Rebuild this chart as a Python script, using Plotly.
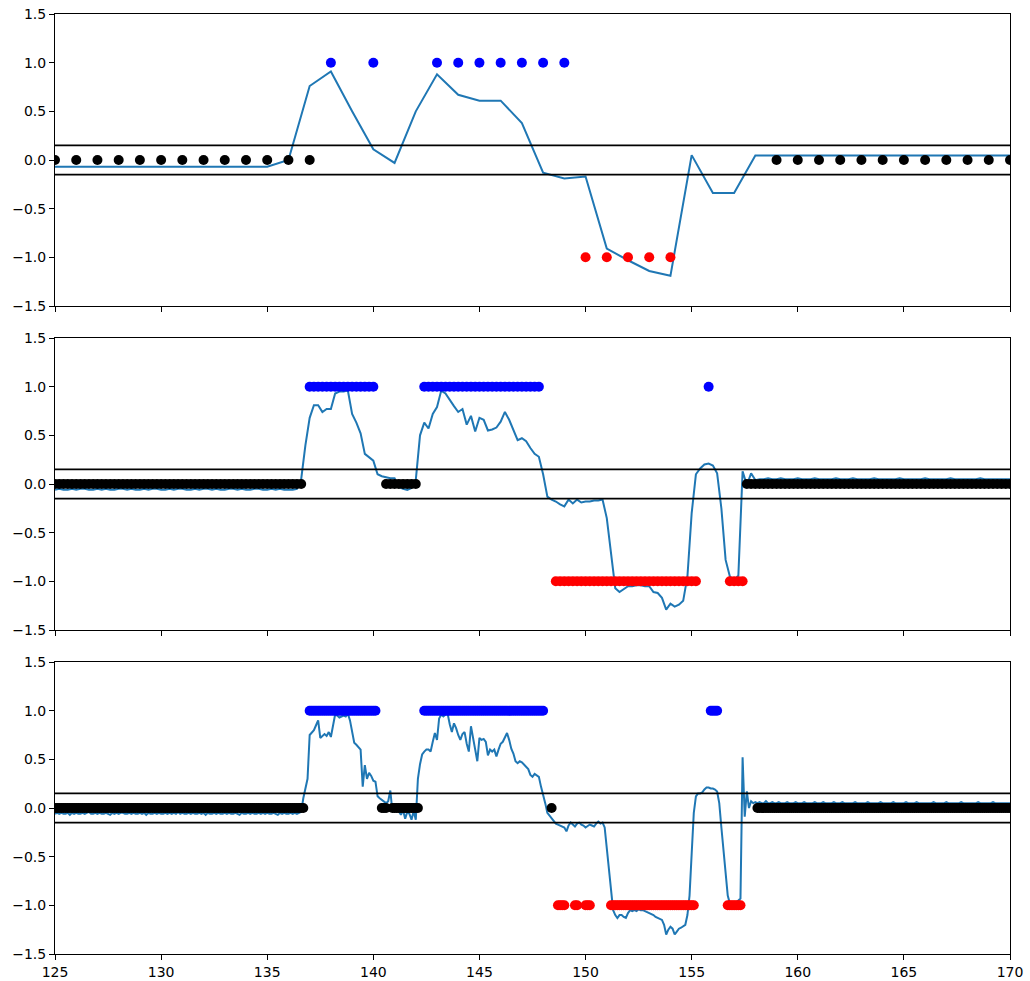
import numpy as np
import plotly.graph_objects as go
from plotly.subplots import make_subplots

# ---- sampling grids (start, step) for the three signals ----
X_START = 125.0
STEP_1, STEP_2, STEP_3 = 1.0, 0.2, 0.1

# ---- signal 1 : one sample per unit ----
signal_1 = [
    -0.07, -0.07, -0.07, -0.07, -0.07, -0.07, -0.07, -0.07, -0.07, -0.07, -0.07,
    0.00, 0.76, 0.91, 0.50, 0.11, -0.03, 0.50, 0.88, 0.67, 0.61, 0.61, 0.38,
    -0.13, -0.19, -0.17, -0.91, -1.03, -1.14, -1.19, 0.05, -0.34, -0.34, 0.045,
    0.045, 0.045, 0.045, 0.045, 0.045, 0.045, 0.045, 0.045, 0.045, 0.045, 0.045, 0.045,
]

# ---- signal 2 : five samples per unit ----
signal_2_head = [
    -0.06, -0.05, -0.06, -0.06, -0.05, -0.06, -0.05, -0.05, -0.06, -0.06,
    -0.05, -0.06, -0.05, -0.06, -0.06, -0.05, -0.05, -0.06, -0.05, -0.06,
    -0.06, -0.05, -0.06, -0.05, -0.05, -0.06, -0.06, -0.05, -0.06, -0.05,
    -0.05, -0.06, -0.06, -0.05, -0.06, -0.05, -0.05, -0.06, -0.05, -0.06,
    -0.06, -0.05, -0.05, -0.06, -0.05, -0.06, -0.06, -0.05, -0.05, -0.06,
    -0.06, -0.05, -0.06, -0.05, -0.06, -0.06, -0.06, -0.05,
]
signal_2_mid = [
    0.05, 0.40, 0.68, 0.81, 0.81, 0.74, 0.77, 0.77, 0.93, 0.95,
    0.95, 0.96, 0.72, 0.63, 0.52, 0.31, 0.27, 0.24, 0.10, 0.08,
    0.07, 0.06, 0.06, -0.03, -0.05, -0.06, -0.04, 0.04, 0.50, 0.63,
    0.57, 0.72, 0.79, 0.96, 0.93, 0.86, 0.80, 0.74, 0.77, 0.61,
    0.70, 0.54, 0.68, 0.66, 0.55, 0.56, 0.58, 0.64, 0.74, 0.66,
    0.55, 0.45, 0.47, 0.44, 0.37, 0.31, 0.28, 0.10, -0.13, -0.16,
    -0.18, -0.21, -0.23, -0.16, -0.20, -0.16, -0.19, -0.18, -0.18, -0.17,
    -0.17, -0.16, -0.35, -0.73, -1.07, -1.11, -1.08, -1.05, -1.05, -1.04,
    -1.04, -1.05, -1.05, -1.11, -1.12, -1.17, -1.29, -1.23, -1.26, -1.24,
    -1.20, -0.95, -0.30, 0.10, 0.16, 0.20, 0.21, 0.19, 0.11, -0.25,
    -0.78, -0.95, -0.99, -0.94, 0.13, -0.01, 0.11,
]
signal_2_tail = [
    0.04, 0.05, 0.05, 0.06, 0.05, 0.05, 0.06, 0.05, 0.05, 0.05,
    0.06, 0.05, 0.05, 0.05, 0.06, 0.05, 0.05, 0.05, 0.05, 0.06,
    0.05, 0.05, 0.05, 0.06, 0.05, 0.05, 0.05, 0.05, 0.06, 0.05,
    0.05, 0.05, 0.05, 0.05, 0.06, 0.05, 0.05, 0.05, 0.05, 0.05,
    0.06, 0.05, 0.05, 0.05, 0.05, 0.05, 0.06, 0.05, 0.05, 0.05,
    0.05, 0.05, 0.05, 0.06, 0.05, 0.05, 0.05, 0.05, 0.05, 0.05,
    0.05,
]

# ---- signal 3 : ten samples per unit ----
signal_3_head = [
    -0.06, -0.05, -0.06, -0.05, -0.06, -0.06, -0.05, -0.07, -0.05, -0.06,
    -0.05, -0.06, -0.06, -0.05, -0.06, -0.05, -0.04, -0.06, -0.06, -0.05,
    -0.06, -0.05, -0.06, -0.06, -0.05, -0.06, -0.07, -0.05, -0.06, -0.05,
    -0.06, -0.05, -0.05, -0.06, -0.06, -0.05, -0.06, -0.05, -0.06, -0.06,
    -0.05, -0.06, -0.05, -0.07, -0.05, -0.06, -0.06, -0.05, -0.06, -0.05,
    -0.06, -0.06, -0.05, -0.06, -0.05, -0.06, -0.05, -0.06, -0.04, -0.06,
    -0.05, -0.06, -0.06, -0.05, -0.06, -0.05, -0.06, -0.06, -0.05, -0.06,
    -0.05, -0.07, -0.05, -0.06, -0.06, -0.05, -0.06, -0.05, -0.06, -0.06,
    -0.05, -0.06, -0.05, -0.06, -0.06, -0.05, -0.06, -0.07, -0.05, -0.06,
    -0.06, -0.05, -0.06, -0.05, -0.06, -0.06, -0.05, -0.06, -0.05, -0.06,
    -0.05, -0.06, -0.06, -0.05, -0.06, -0.07, -0.05, -0.06, -0.05, -0.06,
    -0.06, -0.05, -0.06, -0.05, -0.06, -0.05,
]
signal_3_mid = [
    -0.04, 0.10, 0.20, 0.30, 0.75, 0.78, 0.80, 0.85, 0.90, 0.72,
    0.74, 0.76, 0.74, 0.78, 0.73, 0.85, 0.96, 0.95, 0.93, 0.94,
    0.95, 0.94, 0.97, 0.90, 0.78, 0.67, 0.65, 0.63, 0.60, 0.22,
    0.44, 0.30, 0.36, 0.33, 0.28, 0.27, 0.12, 0.10, 0.08, 0.06,
    0.05, 0.07, 0.18, -0.04, 0.02, 0.00, -0.03, -0.07, -0.02, -0.11,
    -0.04, -0.06, -0.12, -0.03, -0.12, 0.30, 0.45, 0.55, 0.58, 0.60,
    0.60, 0.58, 0.68, 0.77, 0.70, 0.92, 0.96, 0.94, 0.96, 0.97,
    0.86, 0.78, 0.87, 0.82, 0.75, 0.70, 0.76, 0.78, 0.66, 0.58,
    0.84, 0.70, 0.60, 0.48, 0.72, 0.70, 0.71, 0.68, 0.54, 0.60,
    0.58, 0.60, 0.53, 0.60, 0.66, 0.68, 0.72, 0.77, 0.70, 0.61,
    0.56, 0.48, 0.46, 0.48, 0.47, 0.45, 0.42, 0.40, 0.34, 0.32,
    0.35, 0.33, 0.32, 0.22, 0.14, 0.05, -0.05, -0.08, -0.11, -0.13,
    -0.16, -0.17, -0.18, -0.19, -0.20, -0.24, -0.18, -0.15, -0.17, -0.19,
    -0.16, -0.15, -0.17, -0.18, -0.20, -0.18, -0.17, -0.18, -0.19, -0.16,
    -0.14, -0.16, -0.15, -0.20, -0.40, -0.60, -0.85, -1.05, -1.10, -1.13,
    -1.10, -1.10, -1.12, -1.13, -1.08, -1.05, -1.06, -1.05, -1.06, -1.04,
    -1.05, -1.05, -1.06, -1.07, -1.08, -1.09, -1.10, -1.12, -1.13, -1.14,
    -1.15, -1.20, -1.30, -1.25, -1.22, -1.24, -1.30, -1.27, -1.24, -1.23,
    -1.21, -1.20, -1.10, -0.90, -0.47, -0.05, 0.12, 0.15, 0.15, 0.16,
    0.19, 0.21, 0.21, 0.20, 0.20, 0.19, 0.17, 0.05, -0.20, -0.42,
    -0.70, -0.90, -0.98, -0.98, -0.98, -0.97, -0.95, -0.93, 0.52, -0.09,
    0.17, 0.00, 0.07, 0.05, 0.06,
]
signal_3_tail = [
    0.05, 0.06, 0.05, 0.05, 0.07, 0.05, 0.05, 0.06, 0.05, 0.05,
    0.06, 0.05, 0.05, 0.05, 0.06, 0.05, 0.05, 0.05, 0.06, 0.05,
    0.05, 0.05, 0.06, 0.05, 0.05, 0.05, 0.05, 0.06, 0.05, 0.05,
    0.05, 0.06, 0.05, 0.05, 0.05, 0.05, 0.06, 0.05, 0.05, 0.05,
    0.06, 0.05, 0.05, 0.05, 0.05, 0.05, 0.06, 0.05, 0.05, 0.05,
    0.05, 0.05, 0.06, 0.05, 0.05, 0.05, 0.05, 0.05, 0.06, 0.05,
    0.05, 0.05, 0.05, 0.05, 0.06, 0.05, 0.05, 0.05, 0.05, 0.05,
    0.06, 0.05, 0.05, 0.05, 0.05, 0.06, 0.05, 0.05, 0.05, 0.05,
    0.05, 0.05, 0.05, 0.06, 0.05, 0.05, 0.05, 0.05, 0.05, 0.06,
    0.05, 0.05, 0.05, 0.05, 0.05, 0.05, 0.06, 0.05, 0.05, 0.05,
    0.05, 0.05, 0.05, 0.05, 0.06, 0.05, 0.05, 0.05, 0.05, 0.05,
    0.05, 0.06, 0.05, 0.05, 0.05, 0.05, 0.05, 0.05, 0.05, 0.05,
]

signal_2 = signal_2_head + signal_2_mid + signal_2_tail
signal_3 = signal_3_head + signal_3_mid + signal_3_tail

# ---- predicted classes as runs: (first x, last x, class) ----
label_runs_1 = [(125, 137, 0), (138, 138, 1), (140, 140, 1), (143, 149, 1),
                (150, 154, -1), (159, 170, 0)]
label_runs_2 = [(125.0, 136.6, 0), (137.0, 140.0, 1), (140.6, 142.0, 0),
                (142.4, 147.8, 1), (148.6, 155.2, -1), (155.8, 155.8, 1),
                (156.8, 157.4, -1), (157.6, 170.0, 0)]
label_runs_3 = [(125.0, 136.7, 0), (137.0, 140.1, 1), (140.4, 140.6, 0),
                (140.9, 142.1, 0), (142.4, 148.0, 1), (148.4, 148.4, 0),
                (148.7, 149.0, -1), (149.5, 149.6, -1), (150.0, 150.2, -1),
                (151.2, 155.1, -1), (155.9, 156.2, 1), (156.7, 157.3, -1),
                (158.1, 170.0, 0)]

thresholds = [0.15, -0.15]
class_colors = {0: "#000000", 1: "#0000ff", -1: "#ff0000"}
line_color = "#1f77b4"

x_ticks = [125, 130, 135, 140, 145, 150, 155, 160, 165, 170]
y_ticks = [-1.5, -1.0, -0.5, 0.0, 0.5, 1.0, 1.5]
y_tick_text = ["\u22121.5", "\u22121.0", "\u22120.5", "0.0", "0.5", "1.0", "1.5"]


def grid(values, step):
    return np.round(X_START + step * np.arange(len(values)), 2)


def class_points(xs, runs):
    out = {0: [], 1: [], -1: []}
    for x in xs:
        for a, b, c in runs:
            if a - 1e-6 <= x <= b + 1e-6:
                out[c].append(x)
                break
    return out


panels = [
    (signal_1, STEP_1, label_runs_1),
    (signal_2, STEP_2, label_runs_2),
    (signal_3, STEP_3, label_runs_3),
]

fig = make_subplots(rows=3, cols=1, shared_xaxes=True, vertical_spacing=32 / 940)

for row, (sig, step, runs) in enumerate(panels, start=1):
    xs = grid(sig, step)
    fig.add_trace(go.Scatter(x=xs, y=sig, mode="lines",
                             line=dict(color=line_color, width=2),
                             showlegend=False, hoverinfo="skip"), row=row, col=1)
    pts = class_points(xs, runs)
    for c in (0, 1, -1):
        if pts[c]:
            fig.add_trace(go.Scatter(x=pts[c], y=[c] * len(pts[c]), mode="markers",
                                     marker=dict(color=class_colors[c], size=10,
                                                 line=dict(width=0)),
                                     showlegend=False), row=row, col=1)
    for t in thresholds:
        fig.add_trace(go.Scatter(x=[x_ticks[0], x_ticks[-1]], y=[t, t], mode="lines",
                                 line=dict(color="black", width=1.8),
                                 showlegend=False, hoverinfo="skip"), row=row, col=1)

axis_common = dict(showline=True, linecolor="black", linewidth=1, mirror=True,
                   ticks="outside", ticklen=5, tickwidth=1, tickcolor="black",
                   showgrid=False, zeroline=False, automargin=False,
                   tickfont=dict(family="DejaVu Sans", size=14, color="black"))

for row in range(1, 4):
    fig.update_xaxes(range=[x_ticks[0], x_ticks[-1]], tickvals=x_ticks,
                     showticklabels=(row == 3), row=row, col=1, **axis_common)
    fig.update_yaxes(range=[-1.5, 1.5], tickvals=y_ticks, ticktext=y_tick_text,
                     row=row, col=1, **axis_common)

fig.update_layout(width=1030, height=981,
                  margin=dict(l=55, r=20, t=14, b=27),
                  plot_bgcolor="white", paper_bgcolor="white",
                  font=dict(family="DejaVu Sans", size=14, color="black"))

fig.write_html("out.html", config={"displayModeBar": False})
